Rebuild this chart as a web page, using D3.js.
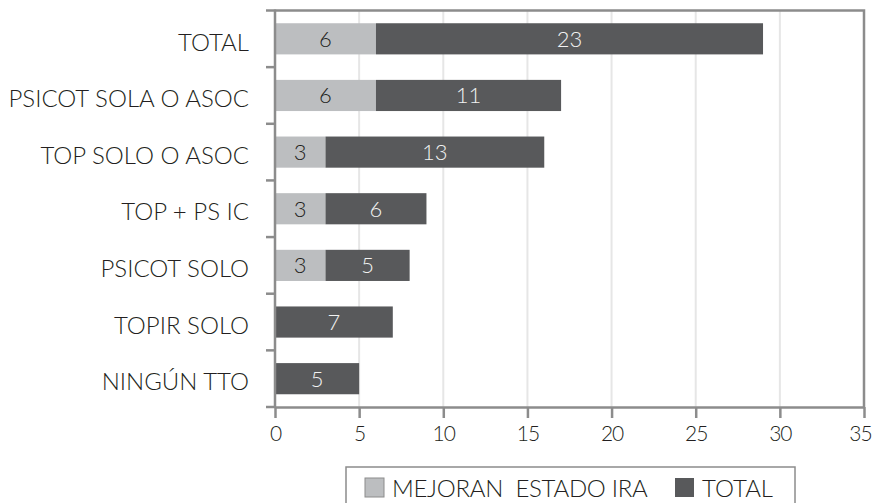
<!DOCTYPE html>
<html>
<head>
<meta charset="utf-8">
<script src="https://cdn.jsdelivr.net/npm/d3@7"></script>
<style>
  body { margin: 0; background: #fff; }
  text { font-family: Lato, "Open Sans", sans-serif; fill: #231f20; }
</style>
</head>
<body>
<script>
// chart data
var categories = ["TOTAL", "PSICOT SOLA O ASOC", "TOP SOLO O ASOC", "TOP + PS IC", "PSICOT SOLO", "TOPIR SOLO", "NINGÚN TTO"];
var mejoran = [6, 6, 3, 3, 3, 0, 0];
var total = [23, 11, 13, 6, 5, 7, 5];
var seriesNames = ["MEJORAN  ESTADO IRA", "TOTAL"];
var xTicks = [0, 5, 10, 15, 20, 25, 30, 35];

var colors = ["#bcbec0", "#58595b"];
var labelColors = ["#231f20", "#f2f2f2"];

var svgWidth = 873, svgHeight = 503;
var plot = { left: 275, right: 864, top: 10.5, bottom: 407 };

var svg = d3.select("body").append("svg")
  .attr("width", svgWidth)
  .attr("height", svgHeight);

var x = d3.scaleLinear().domain([0, 35]).range([plot.left, plot.right]);
var y = d3.scaleBand().domain(categories)
  .range([plot.top, plot.bottom])
  .paddingInner(0.45)
  .paddingOuter(0.225);

// gridlines
svg.append("g")
  .selectAll("line")
  .data(xTicks.slice(1, -1))
  .enter().append("line")
  .attr("x1", d => x(d)).attr("x2", d => x(d))
  .attr("y1", plot.top).attr("y2", plot.bottom)
  .attr("stroke", "#e6e6e6")
  .attr("stroke-width", 2);

// stacked data
var rows = categories.map(function(c, i) {
  return { cat: c, mejoran: mejoran[i], total: total[i] };
});
var stack = d3.stack().keys(["mejoran", "total"])(rows);

var layers = svg.append("g").selectAll("g")
  .data(stack)
  .enter().append("g")
  .attr("fill", (d, i) => colors[i]);

layers.selectAll("rect")
  .data(d => d.filter(p => p[1] > p[0]))
  .enter().append("rect")
  .attr("x", d => x(d[0]))
  .attr("width", d => x(d[1]) - x(d[0]))
  .attr("y", d => y(d.data.cat))
  .attr("height", y.bandwidth());

// value labels
stack.forEach(function(layer, li) {
  svg.append("g").selectAll("text")
    .data(layer.filter(p => p[1] > p[0]))
    .enter().append("text")
    .attr("x", d => (x(d[0]) + x(d[1])) / 2)
    .attr("y", d => y(d.data.cat) + y.bandwidth() / 2)
    .attr("dy", "0.36em")
    .attr("text-anchor", "middle")
    .style("font-size", "22px")
    .style("font-weight", 300)
    .style("fill", labelColors[li])
    .text(d => d[1] - d[0]);
});

// plot border (top, right)
svg.append("path")
  .attr("d", `M${plot.left},${plot.top}H${plot.right}V${plot.bottom}`)
  .attr("fill", "none")
  .attr("stroke", "#8c8c8c")
  .attr("stroke-width", 2.5);

// x axis
var xAxis = svg.append("g")
  .attr("transform", `translate(0,${plot.bottom})`)
  .call(d3.axisBottom(x).tickValues(xTicks).tickSize(11).tickPadding(8).tickSizeOuter(0));
xAxis.selectAll("path, line").attr("stroke", "#8c8c8c").attr("stroke-width", 2.5);
xAxis.selectAll("text")
  .style("font-size", "21px")
  .style("font-weight", 300)
  .style("letter-spacing", "-1px")
  .style("fill", "#231f20")
  .attr("dx", d => d === 35 ? -4 : 0);

// y axis line and boundary ticks
var step = y.step();
var bounds = d3.range(categories.length + 1).map(i => plot.top + i * step);
svg.append("line")
  .attr("x1", plot.left).attr("x2", plot.left)
  .attr("y1", plot.top - 1).attr("y2", plot.bottom)
  .attr("stroke", "#8c8c8c").attr("stroke-width", 2.5);
svg.append("g").selectAll("line")
  .data(bounds)
  .enter().append("line")
  .attr("x1", plot.left - 9).attr("x2", plot.left)
  .attr("y1", d => d).attr("y2", d => d)
  .attr("stroke", "#8c8c8c").attr("stroke-width", 2.5);

// category labels
var yAxis = svg.append("g")
  .attr("transform", `translate(${plot.left},0)`)
  .call(d3.axisLeft(y).tickSize(0).tickPadding(26));
yAxis.select(".domain").remove();
yAxis.selectAll("text")
  .attr("y", 4)
  .style("font-size", "24px")
  .style("font-weight", 300)
  .style("fill", "#231f20");

// legend
var legend = svg.append("g");
legend.append("rect")
  .attr("x", 346).attr("y", 467)
  .attr("width", 449).attr("height", 50)
  .attr("fill", "#fff")
  .attr("stroke", "#8c8c8c")
  .attr("stroke-width", 1.5);
var legendX = [365, 675];
seriesNames.forEach(function(name, i) {
  legend.append("rect")
    .attr("x", legendX[i]).attr("y", 478)
    .attr("width", 19).attr("height", 19)
    .attr("fill", colors[i])
    .attr("stroke", i === 0 ? "#8c8c8c" : "none")
    .attr("stroke-width", 1);
  legend.append("text")
    .attr("x", legendX[i] + 27)
    .attr("y", 497)
    .style("font-size", "24px")
    .style("font-weight", 300)
    .style("white-space", "pre")
    .style("letter-spacing", i === 0 ? "-0.3px" : "0px")
    .text(name);
});
</script>
</body>
</html>
